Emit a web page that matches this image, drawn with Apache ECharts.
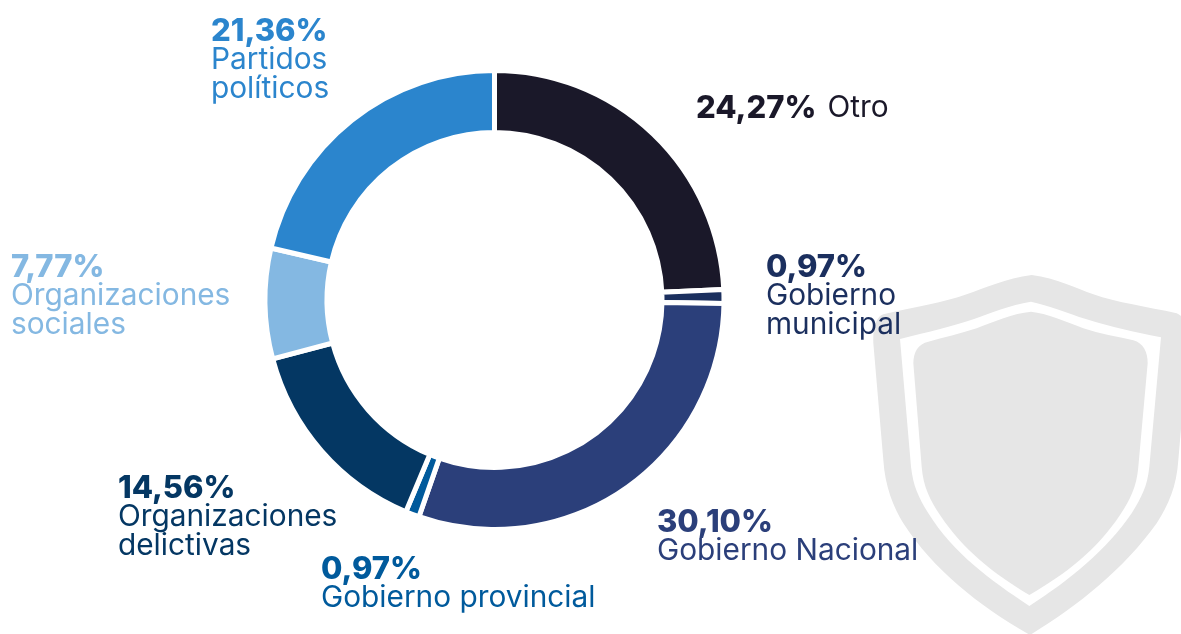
<!DOCTYPE html>
<html>
<head>
<meta charset="utf-8">
<style>html,body{margin:0;padding:0;background:#fff}#c{width:1181px;height:634px}</style>
<script src="https://cdn.jsdelivr.net/npm/echarts@6/dist/echarts.min.js"></script>
</head>
<body>
<div id="c"></div>
<script>
const categories = ['Otro','Gobierno\nmunicipal','Gobierno Nacional','Gobierno provincial','Organizaciones\ndelictivas','Organizaciones\nsociales','Partidos\npolíticos'];
const values = [24.27,0.97,30.10,0.97,14.56,7.77,21.36];
const valueLabels = ['24,27%','0,97%','30,10%','0,97%','14,56%','7,77%','21,36%'];
const colors = ['#1a1829','#1b2f5e','#2b3f7a','#005a9c','#043763','#84b8e2','#2b85cd'];
const labelAnchors = [[696,94],[766,253],[657,508],[321,555],[118,474],[11,253],[211,17]];

const shieldOuter = 'M515 45 C440 55 370 85 320 103 C250 128 170 140 70 163 C50 170 38 200 40 250 L70 600 C75 680 100 740 130 790 C220 930 360 1040 510 1125 C650 1040 790 930 890 790 C925 735 950 680 955 600 L985 250 C987 200 975 170 950 160 C860 140 770 128 700 103 C650 85 590 55 515 45 Z';
const shieldMid = 'M513 125 C450 135 390 160 340 178 C280 198 200 218 120 237 L153 620 C160 680 175 710 205 760 C280 880 390 960 508 1038 C630 960 740 870 815 760 C845 710 862 680 868 620 L903 232 C830 218 750 200 680 178 C620 158 560 135 513 125 Z';
const shieldInner = 'M513 155 C460 160 400 185 350 205 C300 222 250 232 205 245 C175 252 160 275 160 310 L185 620 C190 680 210 720 240 765 C310 870 400 940 508 1005 C620 940 710 870 780 765 C810 720 830 680 835 620 L863 310 C863 275 850 250 820 241 C770 230 720 222 670 205 C620 185 560 160 513 155 Z';

const FONT = 'Inter';
const rich = {};
colors.forEach((c,i)=>{
  rich['b'+i] = {fontFamily:FONT,fontWeight:800,fontSize:31,lineHeight:29,color:c};
  rich['r'+i] = {fontFamily:FONT,fontWeight:400,fontSize:29.8,lineHeight:29,color:c};
  rich['g'+i] = {width:11,fontSize:12,color:c};
});
const shieldPart = (d,fill)=>({type:'path',x:860,y:260,scaleX:1/3,scaleY:1/3,shape:{pathData:d},style:{fill:fill}});

const chart = echarts.init(document.getElementById('c'),null,{renderer:'canvas'});
chart.setOption({
  animation:false,
  backgroundColor:'#fff',
  series:[{
    type:'custom',
    coordinateSystem:'none',
    z:1,
    silent:true,
    data:[0],
    renderItem:()=>({type:'group',children:[shieldPart(shieldOuter,'#e6e6e6'),shieldPart(shieldMid,'#ffffff'),shieldPart(shieldInner,'#e6e6e6')]})
  },{
    type:'pie',
    z:5,
    center:[494.5,300],
    radius:[167.5,229.5],
    startAngle:90,
    clockwise:true,
    avoidLabelOverlap:false,
    silent:true,
    itemStyle:{borderColor:'#fff',borderWidth:5},
    labelLine:{show:false},
    label:{
      show:true,
      position:'outside',
      alignTo:'none',
      align:'left',
      formatter:p=>{
        const i=p.dataIndex;
        const parts=p.name.split('\n').map(s=>`{r${i}|${s}}`);
        if(i===0) return `{b${i}|${valueLabels[i]}}{g${i}| }${parts[0]}`;
        return `{b${i}|${valueLabels[i]}}\n`+parts.join('\n');
      },
      rich
    },
    labelLayout:p=>({x:labelAnchors[p.dataIndex][0],y:labelAnchors[p.dataIndex][1],align:'left',verticalAlign:'top',hideOverlap:false}),
    data:categories.map((n,i)=>({name:n,value:values[i],itemStyle:{color:colors[i]}}))
  }]
});
</script>
</body>
</html>
